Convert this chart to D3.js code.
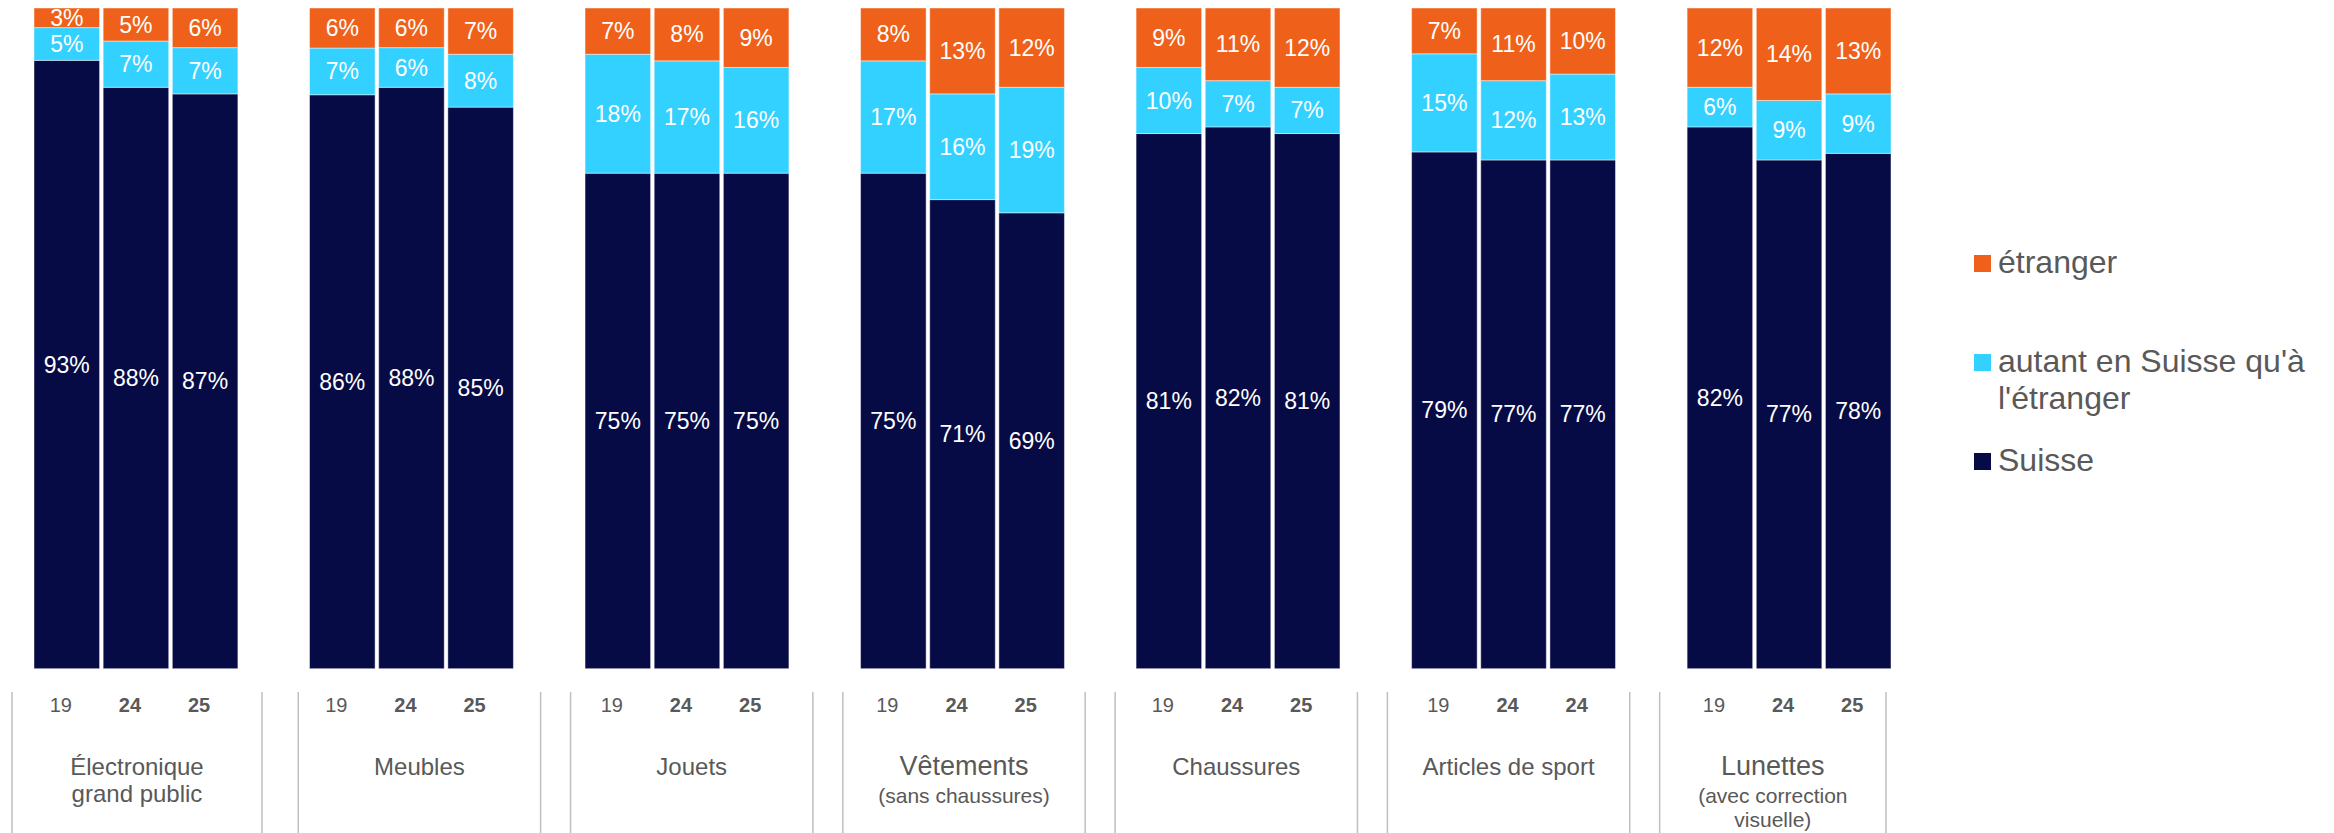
<!DOCTYPE html>
<html>
<head>
<meta charset="utf-8">
<script src="https://cdn.jsdelivr.net/npm/d3@7"></script>
<style>
  body { margin: 0; background: #fff; }
  svg text { font-family: 'Liberation Sans', Arial, sans-serif; }
</style>
</head>
<body>
<div id="chart"></div>
<script>
// data
const categories = ['Électronique grand public', 'Meubles', 'Jouets', 'Vêtements', 'Chaussures', 'Articles de sport', 'Lunettes']
const catLines = [['Électronique', 'grand public'], ['Meubles'], ['Jouets'], ['Vêtements'], ['Chaussures'], ['Articles de sport'], ['Lunettes']]
const subLines = [[], [], [], ['(sans chaussures)'], [], [], ['(avec correction', 'visuelle)']]
const years = [
  ['19', '24', '25'], ['19', '24', '25'], ['19', '24', '25'], ['19', '24', '25'],
  ['19', '24', '25'], ['19', '24', '24'], ['19', '24', '25']
]
const suisse = [[93, 88, 87], [86, 88, 85], [75, 75, 75], [75, 71, 69], [81, 82, 81], [79, 77, 77], [82, 77, 78]]
const autant = [[5, 7, 7], [7, 6, 8], [18, 17, 16], [17, 16, 19], [10, 7, 7], [15, 12, 13], [6, 9, 9]]
const etranger = [[3, 5, 6], [6, 6, 7], [7, 8, 9], [8, 13, 12], [9, 11, 12], [7, 11, 10], [12, 14, 13]]

const keys = ['suisse', 'autant', 'etranger']
const legendLabels = { etranger: ['étranger'], autant: ['autant en Suisse qu\'à', 'l\'étranger'], suisse: ['Suisse'] }
const colors = { suisse: '#070b45', autant: '#33d1ff', etranger: '#ef611a' }

const width = 2334
const height = 833
const plotTop = 8
const plotBottom = 668.7

const svg = d3
  .select('#chart')
  .append('svg')
  .attr('width', width)
  .attr('height', height)

// one row per bar
const rows = []
categories.forEach((c, i) => {
  years[i].forEach((y, j) => {
    rows.push({
      cat: c,
      idx: j,
      year: y,
      suisse: suisse[i][j],
      autant: autant[i][j],
      etranger: etranger[i][j]
    })
  })
})

const stacked = d3.stack().keys(keys).offset(d3.stackOffsetExpand)(rows)

const xGroup = d3
  .scaleBand()
  .domain(categories)
  .range([34, 1891])
  .paddingInner(0.26)

const xBar = d3
  .scaleBand()
  .domain([0, 1, 2])
  .range([0, xGroup.bandwidth()])
  .paddingInner(0.052)

const yScale = d3
  .scaleLinear()
  .domain([0, 1])
  .range([plotBottom, plotTop])

svg.append('clipPath')
  .attr('id', 'plot-clip')
  .append('rect')
  .attr('x', 0)
  .attr('y', plotTop)
  .attr('width', width)
  .attr('height', plotBottom - plotTop)

const layers = svg.selectAll('.layer')
  .data(stacked)
  .enter()
  .append('g')
  .attr('class', 'layer')
  .attr('fill', d => colors[d.key])

layers.selectAll('rect')
  .data(d => d)
  .enter()
  .append('rect')
  .attr('x', d => xGroup(d.data.cat) + xBar(d.data.idx))
  .attr('width', xBar.bandwidth())
  .attr('y', d => yScale(d[1]))
  .attr('height', d => yScale(d[0]) - yScale(d[1]))
  .attr('stroke', '#ffffff')
  .attr('stroke-opacity', 0.45)
  .attr('stroke-width', 1)

// value labels
const labelLayer = svg.append('g').attr('clip-path', 'url(#plot-clip)')
stacked.forEach(layer => {
  labelLayer.selectAll('.lbl-' + layer.key)
    .data(layer)
    .enter()
    .append('text')
    .attr('x', d => xGroup(d.data.cat) + xBar(d.data.idx) + xBar.bandwidth() / 2)
    .attr('y', d => (yScale(d[0]) + yScale(d[1])) / 2)
    .attr('dy', '0.35em')
    .attr('text-anchor', 'middle')
    .attr('fill', '#ffffff')
    .attr('font-size', 23)
    .text(d => d.data[layer.key] + '%')
})

// category axis: one box per category
const xBox = d3
  .scaleBand()
  .domain(categories)
  .range([26, 1902])
  .paddingInner(0.11)

const axis = svg.append('g').attr('class', 'axis')
categories.forEach((c, i) => {
  const left = i === 0 ? 12 : xBox(c)
  const right = i === 0 ? 262 : (i === categories.length - 1 ? 1886 : xBox(c) + xBox.bandwidth())
  const mid = (left + right) / 2
  const hasSub = subLines[i].length > 0

  axis.append('line')
    .attr('x1', left).attr('x2', left)
    .attr('y1', 692).attr('y2', height)
    .attr('stroke', '#bfbfbf').attr('stroke-width', 1.5)
  axis.append('line')
    .attr('x1', right).attr('x2', right)
    .attr('y1', 692).attr('y2', height)
    .attr('stroke', '#bfbfbf').attr('stroke-width', 1.5)

  years[i].forEach((y, j) => {
    axis.append('text')
      .attr('x', xGroup(c) + xBar(j) + xBar.bandwidth() / 2 - 6)
      .attr('y', 712)
      .attr('text-anchor', 'middle')
      .attr('fill', '#595959')
      .attr('font-size', 20)
      .attr('font-weight', j === 0 ? 'normal' : 'bold')
      .text(y)
  })

  catLines[i].forEach((t, k) => {
    axis.append('text')
      .attr('x', mid)
      .attr('y', 775 + k * 26.5)
      .attr('text-anchor', 'middle')
      .attr('fill', '#595959')
      .attr('font-size', hasSub ? 27 : 24)
      .text(t)
  })

  subLines[i].forEach((t, k) => {
    axis.append('text')
      .attr('x', mid)
      .attr('y', 803 + k * 24)
      .attr('text-anchor', 'middle')
      .attr('fill', '#595959')
      .attr('font-size', 21)
      .text(t)
  })
})

// legend
const legendOrder = ['etranger', 'autant', 'suisse']
const legendY = d3.scalePoint().domain(legendOrder).range([255, 453])

const legend = svg.append('g').attr('class', 'legend')
legendOrder.forEach(k => {
  legend.append('rect')
    .attr('x', 1974)
    .attr('y', legendY(k))
    .attr('width', 17)
    .attr('height', 17)
    .attr('fill', colors[k])
  legendLabels[k].forEach((t, n) => {
    legend.append('text')
      .attr('x', 1998)
      .attr('y', legendY(k) + 18 + n * 37)
      .attr('fill', '#595959')
      .attr('font-size', 32)
      .text(t)
  })
})
</script>
</body>
</html>
